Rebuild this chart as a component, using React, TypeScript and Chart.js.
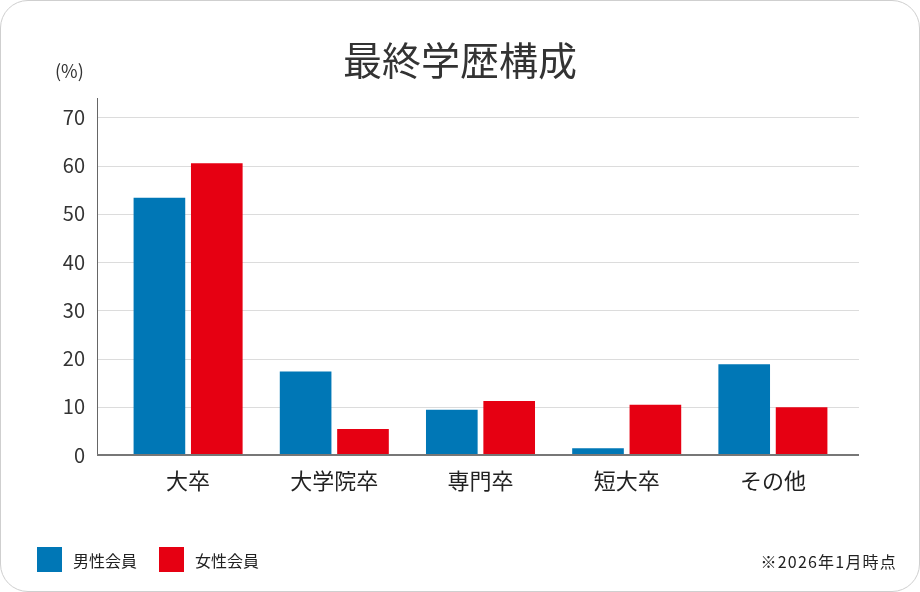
import { useEffect, useRef } from "react";
import { Chart, registerables } from "chart.js";

Chart.register(...registerables);

const categories = ["大卒", "大学院卒", "専門卒", "短大卒", "その他"];
const maleValues = [53.3, 17.3, 9.4, 1.4, 18.8];
const femaleValues = [60.5, 5.4, 11.2, 10.4, 9.9];
const seriesNames = ["男性会員", "女性会員"];
const seriesColors = ["#0077b6", "#e60012"];

const FONT = "'Noto Sans CJK JP', 'Noto Sans', sans-serif";

// draws the horizontal grid and the y axis line a bit wider than the bars' area
const gridPlugin = {
  id: "wideGrid",
  beforeDatasetsDraw(chart: any) {
    const { ctx, chartArea, scales } = chart;
    const y = scales.y;
    const left = chartArea.left - 18;
    const right = chartArea.right + 13;
    ctx.save();
    y.ticks.forEach((t: any) => {
      if (t.value === 0) return;
      const py = Math.round(y.getPixelForValue(t.value)) + 0.5;
      ctx.strokeStyle = "#dcdcdc";
      ctx.lineWidth = 1;
      ctx.beginPath();
      ctx.moveTo(left, py);
      ctx.lineTo(right, py);
      ctx.stroke();
    });
    // y axis line
    ctx.strokeStyle = "#666";
    ctx.lineWidth = 1;
    ctx.beginPath();
    ctx.moveTo(left + 0.5, chartArea.top);
    ctx.lineTo(left + 0.5, chartArea.bottom);
    ctx.stroke();
    ctx.restore();
  },
  afterDatasetsDraw(chart: any) {
    const { ctx, chartArea, scales } = chart;
    const py = scales.y.getPixelForValue(0);
    ctx.save();
    ctx.strokeStyle = "#777";
    ctx.lineWidth = 2;
    ctx.beginPath();
    ctx.moveTo(chartArea.left - 18, py);
    ctx.lineTo(chartArea.right + 13, py);
    ctx.stroke();
    ctx.restore();
  },
};

export default function App() {
  const canvasRef = useRef<HTMLCanvasElement | null>(null);
  const chartRef = useRef<Chart | null>(null);

  useEffect(() => {
    document.body.style.margin = "0";
    if (!canvasRef.current) return;
    chartRef.current?.destroy();

    chartRef.current = new Chart(canvasRef.current, {
      type: "bar",
      data: {
        labels: categories,
        datasets: [
          {
            label: seriesNames[0],
            data: maleValues,
            backgroundColor: seriesColors[0],
            categoryPercentage: 0.785,
            barPercentage: 0.9,
          },
          {
            label: seriesNames[1],
            data: femaleValues,
            backgroundColor: seriesColors[1],
            categoryPercentage: 0.785,
            barPercentage: 0.9,
          },
        ],
      },
      options: {
        animation: false,
        responsive: false,
        maintainAspectRatio: false,
        devicePixelRatio: 1,
        layout: {
          padding: { top: 97, left: 0, right: 73, bottom: 96 },
        },
        plugins: {
          legend: { display: false },
          tooltip: { enabled: false },
        },
        scales: {
          x: {
            grid: { display: false, drawTicks: false },
            border: { display: false },
            ticks: {
              color: "#222",
              padding: 12,
              font: { family: FONT, size: 22 },
            },
            afterFit: (scale: any) => {
              scale.height = 40;
            },
          },
          y: {
            min: 0,
            max: 74,
            grid: { display: false, drawTicks: false },
            border: { display: false },
            ticks: {
              stepSize: 10,
              includeBounds: false,
              color: "#333",
              padding: 30,
              font: { family: FONT, size: 20 },
            },
            afterFit: (scale: any) => {
              scale.width = 114;
            },
          },
        },
      },
      plugins: [gridPlugin],
    });

    return () => chartRef.current?.destroy();
  }, []);

  return (
    <div
      style={{
        position: "relative",
        width: 918,
        height: 590,
        border: "1px solid #cfcfcf",
        borderRadius: 28,
        background: "#fff",
        fontFamily: FONT,
        overflow: "hidden",
      }}
    >
      <canvas
        ref={canvasRef}
        width={918}
        height={590}
        style={{ position: "absolute", left: 0, top: 0 }}
      />
      <div
        style={{
          position: "absolute",
          left: 0,
          right: 0,
          top: 33,
          textAlign: "center",
          fontSize: 39,
          lineHeight: "48px",
          color: "#333",
        }}
      >
        最終学歴構成
      </div>
      <div
        style={{
          position: "absolute",
          left: 54,
          top: 57,
          fontSize: 18,
          lineHeight: "24px",
          color: "#333",
        }}
      >
        (%)
      </div>
      <div
        style={{
          position: "absolute",
          left: 36,
          top: 546,
          display: "flex",
          alignItems: "center",
          fontSize: 16,
          color: "#222",
        }}
      >
        {seriesNames.map((name, i) => (
          <div
            key={name}
            style={{ display: "flex", alignItems: "center", marginRight: 22 }}
          >
            <span
              style={{
                display: "inline-block",
                width: 25,
                height: 25,
                background: seriesColors[i],
                marginRight: 11,
              }}
            />
            <span>{name}</span>
          </div>
        ))}
      </div>
      <div
        style={{
          position: "absolute",
          right: 22,
          top: 549,
          fontSize: 16,
          letterSpacing: 1.2,
          lineHeight: "22px",
          color: "#222",
        }}
      >
        ※2026年1月時点
      </div>
    </div>
  );
}
